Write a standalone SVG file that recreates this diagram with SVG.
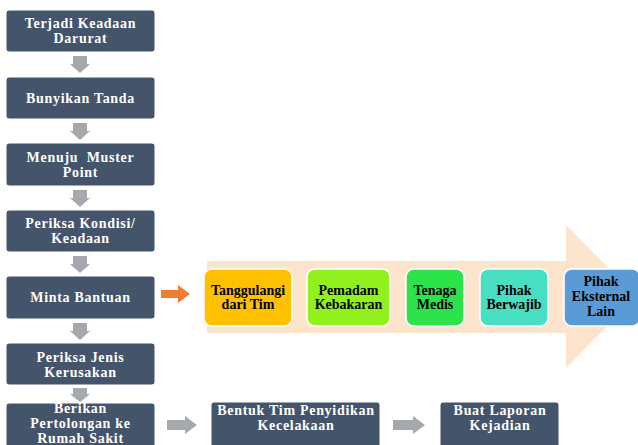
<svg xmlns="http://www.w3.org/2000/svg" width="638" height="445" viewBox="0 0 638 445">
<defs>
<style>
.dk{fill:#44546A;stroke:#ffffff;stroke-width:1}
.wt{fill:#ffffff;font-family:'Liberation Serif','Times New Roman',serif;font-weight:700;font-size:14px;letter-spacing:0.7px;text-anchor:middle}
.bt{fill:#000000;font-family:'Liberation Serif','Times New Roman',serif;font-weight:700;font-size:14px;text-anchor:middle}
.cb{stroke:#ffffff;stroke-width:1.5}
.ga{fill:#A5A8AD}
</style>
<path id="va" d="M-7,0 H7 V8 H10 L0,17 L-10,8 H-7 Z"/>
</defs>
<rect width="638" height="445" fill="#ffffff"/>
<g id="bigarrow">
<path d="M207,261 H566 V225 L637,296.5 L566,368 V333 H207 Z" fill="#FDE4CD"/>
</g>
<g id="connectors">
<use href="#va" x="80" y="56" class="ga"/>
<use href="#va" x="80" y="123" class="ga"/>
<use href="#va" x="80" y="190" class="ga"/>
<use href="#va" x="80" y="256" class="ga"/>
<use href="#va" x="80" y="323" class="ga"/>
<path d="M73,388 H87 V394 H90 L80,402 L70,394 H73 Z" class="ga"/>
<path d="M161,290 H178 V285 L190,294 L178,303 V298 H161 Z" fill="#ED7D31"/>
<path d="M167,420 H185 V416 L197,425 L185,434 V430 H167 Z" class="ga"/>
<path d="M393,420 H413 V416 L425,425 L413,434 V430 H393 Z" class="ga"/>
</g>
<g id="n1"><rect class="dk" x="6" y="10" width="149" height="42" rx="3"/><text class="wt" x="80.5" y="28">Terjadi Keadaan</text><text class="wt" x="80.5" y="43">Darurat</text></g>
<g id="n2"><rect class="dk" x="6" y="77" width="149" height="42" rx="3"/><text class="wt" x="80.5" y="103">Bunyikan Tanda</text></g>
<g id="n3"><rect class="dk" x="6" y="143" width="149" height="43" rx="3"/><text class="wt" x="80.5" y="162" xml:space="preserve">Menuju  Muster</text><text class="wt" x="80.5" y="177">Point</text></g>
<g id="n4"><rect class="dk" x="6" y="210" width="149" height="42" rx="3"/><text class="wt" x="80.5" y="228">Periksa Kondisi/</text><text class="wt" x="80.5" y="243">Keadaan</text></g>
<g id="n5"><rect class="dk" x="6" y="276" width="149" height="43" rx="3"/><text class="wt" x="80.5" y="302">Minta Bantuan</text></g>
<g id="n6"><rect class="dk" x="6" y="343" width="149" height="42" rx="3"/><text class="wt" x="80.5" y="362">Periksa Jenis</text><text class="wt" x="80.5" y="377">Kerusakan</text></g>
<g id="n7"><rect class="dk" x="6" y="403" width="149" height="46" rx="3"/><text class="wt" x="80.5" y="413">Berikan</text><text class="wt" x="80.5" y="428">Pertolongan ke</text><text class="wt" x="80.5" y="443">Rumah Sakit</text></g>
<g id="n8"><rect class="dk" x="211" y="402" width="169" height="47" rx="3"/><text class="wt" x="296" y="415">Bentuk Tim Penyidikan</text><text class="wt" x="296" y="430">Kecelakaan</text></g>
<g id="n9"><rect class="dk" x="440" y="402" width="119" height="47" rx="3"/><text class="wt" x="500" y="415">Buat Laporan</text><text class="wt" x="500" y="430">Kejadian</text></g>
<g id="c1"><rect class="cb" x="204" y="269" width="88" height="57" rx="8" fill="#FFC000"/><text class="bt" x="248" y="294.5">Tanggulangi</text><text class="bt" x="248" y="309">dari Tim</text></g>
<g id="c2"><rect class="cb" x="307" y="269" width="83" height="57" rx="8" fill="#92F01C"/><text class="bt" x="348.5" y="294.5">Pemadam</text><text class="bt" x="348.5" y="309">Kebakaran</text></g>
<g id="c3"><rect class="cb" x="406" y="269" width="58" height="57" rx="8" fill="#2DE34A"/><text class="bt" x="435" y="294.5">Tenaga</text><text class="bt" x="435" y="309">Medis</text></g>
<g id="c4"><rect class="cb" x="480" y="269" width="68" height="57" rx="8" fill="#48DEC1"/><text class="bt" x="514" y="294.5">Pihak</text><text class="bt" x="514" y="309">Berwajib</text></g>
<g id="c5"><rect class="cb" x="564" y="269" width="76" height="57" rx="8" fill="#5B9BD5"/><text class="bt" x="601" y="286">Pihak</text><text class="bt" x="601" y="301">Eksternal</text><text class="bt" x="601" y="315.5">Lain</text></g>
</svg>
